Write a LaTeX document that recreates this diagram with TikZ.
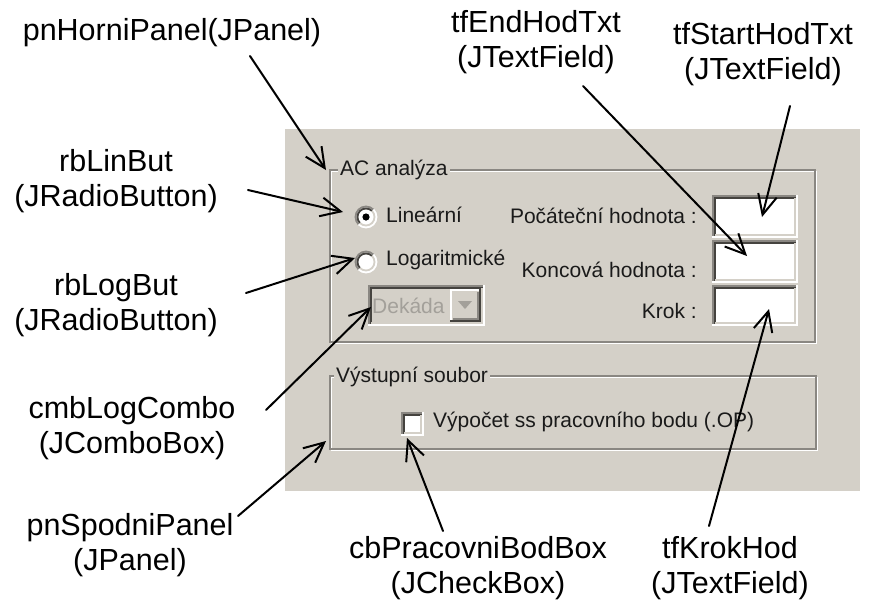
\documentclass[tikz,border=0pt]{standalone}
\usepackage{fontspec}
\setmainfont{Liberation Sans}
\usetikzlibrary{arrows.meta}

\definecolor{panelgray}{HTML}{D4D0C8}
\definecolor{etchdark}{HTML}{8A8782}
\definecolor{shadowdk}{HTML}{45433F}
\definecolor{uitext}{HTML}{1A1A1A}
\definecolor{distext}{HTML}{A3A09A}

\tikzset{
  annot/.style={font=\fontsize{30.5}{35}\selectfont, align=center, inner sep=0pt, text=black},
  pointer/.style={draw=black, line width=2pt, line cap=round,
    -{Straight Barb[length=20pt,width=19pt,line width=2pt]}},
  uitxt/.style={font=\fontsize{21}{24}\selectfont, text=uitext, inner sep=0pt},
  grouptitle/.style={uitxt, fill=panelgray, inner xsep=2pt, inner ysep=1pt, anchor=west},
  etchline/.style={draw=etchdark, line width=1.6pt},
  etchlight/.style={draw=white, line width=1.6pt},
}

% sunken 3D box: x1 y1 x2 y2, fill
\newcommand\sunkenbox[5]{%
  \fill[#5] (#1,#2) rectangle (#3,#4);
  \draw[etchdark,line width=2pt] (#1+1,#4) -- (#1+1,#2+1) -- (#3,#2+1);
  \draw[shadowdk,line width=2pt] (#1+3,#4-2) -- (#1+3,#2+3) -- (#3-2,#2+3);
  \draw[panelgray,line width=2pt] (#1+3,#4-3) -- (#3-3,#4-3) -- (#3-3,#2+3);
  \draw[white,line width=2pt] (#1,#4-1) -- (#3-1,#4-1) -- (#3-1,#2);
}
% raised 3D box: x1 y1 x2 y2
\newcommand\raisedbox[4]{%
  \fill[panelgray] (#1,#2) rectangle (#3,#4);
  \draw[white,line width=2pt] (#1+1,#4) -- (#1+1,#2+1) -- (#3,#2+1);
  \draw[etchdark,line width=2pt] (#1+3,#4-3) -- (#3-3,#4-3) -- (#3-3,#2+3);
  \draw[shadowdk,line width=2pt] (#1,#4-1) -- (#3-1,#4-1) -- (#3-1,#2);
}
% etched group frame: x1 y1 x2 y2
\newcommand\etchedframe[4]{%
  \draw[etchlight] (#1+1.6,#2+1.6) rectangle (#3+1.6,#4+1.6);
  \draw[etchline] (#1,#2) rectangle (#3,#4);
}
% classic radio button at (x,y)
\newcommand\radiobtn[2]{%
  \fill[white] (#1,#2) circle[radius=10.5];
  \draw[etchdark,line width=1.8pt] (#1,#2) ++(135:10.5) arc[start angle=135,end angle=315,radius=10.5];
  \draw[shadowdk,line width=1.8pt] (#1,#2) ++(135:8.5) arc[start angle=135,end angle=315,radius=8.5];
  \draw[white,line width=1.8pt] (#1,#2) ++(-45:10.5) arc[start angle=-45,end angle=135,radius=10.5];
  \draw[panelgray,line width=1.8pt] (#1,#2) ++(-45:8.5) arc[start angle=-45,end angle=135,radius=8.5];
}

\begin{document}
\begin{tikzpicture}[x=1pt,y=-1pt]
\useasboundingbox (0,0) rectangle (873,606);
\fill[white] (0,0) rectangle (873,606);

% dialog panel
\fill[panelgray] (285,129) rectangle (860,491);

% upper group: AC analysis
\etchedframe{330}{170}{815}{342}
\node[grouptitle] (acTitle) at (338,170) {AC analýza};

\radiobtn{366}{217}
\fill[black] (366,217) circle[radius=3.6];
\node[uitxt, anchor=west] (linTxt) at (386,215) {Lineární};
\radiobtn{366}{262}
\node[uitxt, anchor=west] (logTxt) at (386,260) {Logaritmické};

% disabled combo box
\sunkenbox{368}{285}{485}{326}{panelgray}
\raisedbox{450}{289}{481}{322}
\fill[distext] (458,301) -- (472,301) -- (465,309) -- cycle;
\node[uitxt, text=distext, anchor=west] (decTxt) at (372,306) {Dekáda};

% value fields
\node[uitxt, anchor=east] (startLbl) at (697,216) {Počáteční hodnota :};
\node[uitxt, anchor=east] (endLbl) at (697,270) {Koncová hodnota :};
\node[uitxt, anchor=east] (stepLbl) at (697,311) {Krok :};
\sunkenbox{712}{195}{798}{238}{white}
\sunkenbox{712}{240}{798}{283}{white}
\sunkenbox{712}{285}{798}{326}{white}

% lower group: output file
\etchedframe{330}{376}{816}{449}
\node[grouptitle] (outTitle) at (334,377) {Výstupní soubor};
\sunkenbox{401}{412}{424}{436}{white}
\node[uitxt, anchor=west] (opTxt) at (433,422) {Výpočet ss pracovního bodu (.OP)};

% annotation labels
\node[annot] (hp) at (172,33) {pnHorniPanel(JPanel)};
\node[annot] (te) at (536,42) {tfEndHodTxt\\(JTextField)};
\node[annot] (ts) at (763,54) {tfStartHodTxt\\(JTextField)};
\node[annot] (rl) at (116,181) {rbLinBut\\(JRadioButton)};
\node[annot] (rg) at (116,305) {rbLogBut\\(JRadioButton)};
\node[annot] (cc) at (132,428) {cmbLogCombo\\(JComboBox)};
\node[annot] (sp) at (130,545) {pnSpodniPanel\\(JPanel)};
\node[annot] (cb) at (478,568) {cbPracovniBodBox\\(JCheckBox)};
\node[annot] (kh) at (730,568) {tfKrokHod\\(JTextField)};

% pointer ends
\coordinate (hpS) at (250,56);   \coordinate (hpT) at (326,170);
\coordinate (rlS) at (248,190);  \coordinate (rlT) at (343,212);
\coordinate (rgS) at (246,293);  \coordinate (rgT) at (355,258);
\coordinate (ccS) at (266,410);  \coordinate (ccT) at (371,307);
\coordinate (spS) at (238,516);  \coordinate (spT) at (326,441);
\coordinate (cbS) at (443,531);  \coordinate (cbT) at (407,438);
\coordinate (khS) at (709,526);  \coordinate (khT) at (769,309);
\coordinate (teS) at (583,86);   \coordinate (teT) at (747,256);
\coordinate (tsS) at (790,106);  \coordinate (tsT) at (762,217);

\draw[pointer] (hpS) -- (hpT);
\draw[pointer] (rlS) -- (rlT);
\draw[pointer] (rgS) -- (rgT);
\draw[pointer] (ccS) -- (ccT);
\draw[pointer] (spS) -- (spT);
\draw[pointer] (cbS) -- (cbT);
\draw[pointer] (khS) -- (khT);
\draw[pointer] (teS) -- (teT);
\draw[pointer] (tsS) -- (tsT);
\end{tikzpicture}
\end{document}
